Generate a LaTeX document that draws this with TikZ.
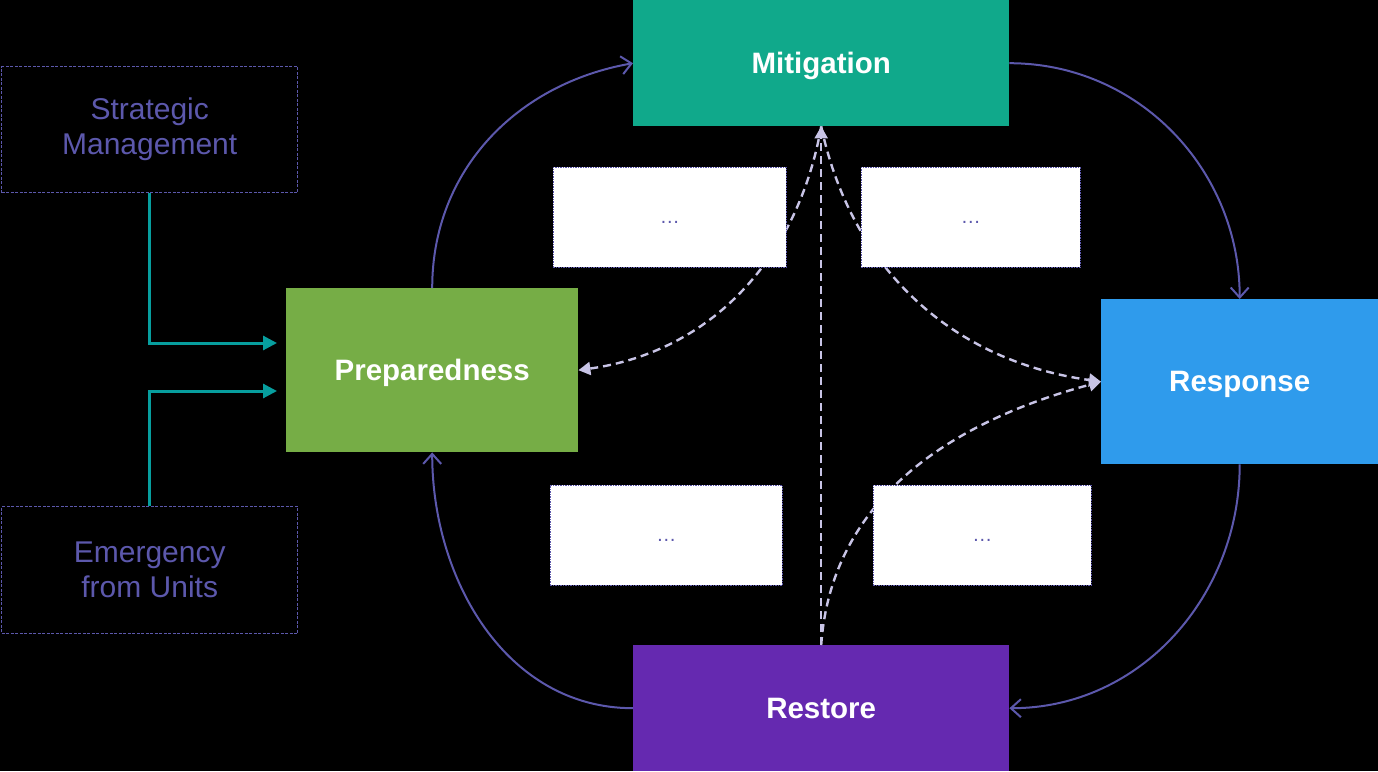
\documentclass[tikz,border=0pt]{standalone}
\usepackage{fontspec}
\setmainfont{Liberation Sans}
\usepackage{xcolor}
\definecolor{mitteal}{HTML}{10A98B}
\definecolor{prepgreen}{HTML}{76AD46}
\definecolor{respblue}{HTML}{2F9BEC}
\definecolor{restpurple}{HTML}{6529B0}
\definecolor{lineviolet}{HTML}{5C58AC}
\definecolor{feedteal}{HTML}{079E9E}
\definecolor{linklilac}{HTML}{C8C4E6}
\usetikzlibrary{arrows.meta}

\begin{document}
\begin{tikzpicture}[x=1pt,y=-1pt,
    phase/.style={anchor=north west,inner sep=0pt,text=white,text depth=0pt,
      font=\fontsize{29.5}{32}\selectfont\bfseries},
    source/.style={anchor=north west,inner sep=0pt,draw=lineviolet,
      dash pattern=on 3pt off 1.5pt,line width=1.4pt,text=lineviolet,
      align=center,font=\fontsize{30}{35}\selectfont},
    note/.style={anchor=north west,inner sep=0pt,fill=white,draw=lineviolet,
      dash pattern=on 1.5pt off 1pt,line width=0.8pt,text=lineviolet,
      text height=0pt,text depth=0pt,font=\fontsize{20}{20}\selectfont},
    cycle/.style={draw=lineviolet,line width=2pt,
      -{Straight Barb[length=10pt,width=18pt,line width=2pt]}},
    feed/.style={draw=feedteal,line width=3pt,
      -{Triangle[length=14pt,width=14pt]}},
    link/.style={draw=linklilac,line width=2.4pt,dash pattern=on 8pt off 5pt,
      -{Triangle[length=12pt,width=13pt]}}]
  \fill[black] (0,0) rectangle (1378,771);
  \useasboundingbox (0,0) rectangle (1378,771);
  % dashed links (under the note boxes)
  \node[phase,fill=mitteal,minimum width=376pt,minimum height=126pt] (mit) at (633,0) {Mitigation};
  \node[phase,fill=prepgreen,minimum width=292pt,minimum height=164pt] (prep) at (286,288) {Preparedness};
  \node[phase,fill=respblue,minimum width=277pt,minimum height=165pt] (resp) at (1101,299) {Response};
  \node[phase,fill=restpurple,minimum width=376pt,minimum height=126pt] (rest) at (633,645) {Restore};
  \draw[link] (mit.south) to[out=-100,in=8] (prep.east);
  \draw[link] (mit.south) to[out=-78,in=172] (resp.west);
  \draw[link] (rest.north) to[out=86,in=195] (resp.west);
  \draw[link] (rest.north) -- (mit.south);
  % notes
  \node[note,minimum width=233pt,minimum height=100pt] (n1) at (553,167) {\raisebox{-6pt}{\dots}};
  \node[note,minimum width=219pt,minimum height=100pt] (n2) at (861,167) {\raisebox{-6pt}{\dots}};
  \node[note,minimum width=232pt,minimum height=100pt] (n3) at (550,485) {\raisebox{-6pt}{\dots}};
  \node[note,minimum width=218pt,minimum height=100pt] (n4) at (873,485) {\raisebox{-6pt}{\dots}};
  % sources on the left
  \node[source,minimum width=296pt,minimum height=126pt] (strat) at (1,66) {Strategic\\Management};
  \node[source,minimum width=296pt,minimum height=127pt] (emer) at (1,506) {Emergency\\from Units};
  \coordinate (in1) at (277,343);
  \coordinate (in2) at (277,391);
  \draw[feed] (strat.south) |- (in1);
  \draw[feed] (emer.north) |- (in2);
  % the cycle
  \draw[cycle] (prep.north) to[out=90,in=190] (mit.west);
  \draw[cycle] (mit.east) to[out=0,in=90] (resp.north);
  \draw[cycle] (resp.south) to[out=-90,in=0] (rest.east);
  \draw[cycle] (rest.west) to[out=180,in=-90] (prep.south);
\end{tikzpicture}
\end{document}
